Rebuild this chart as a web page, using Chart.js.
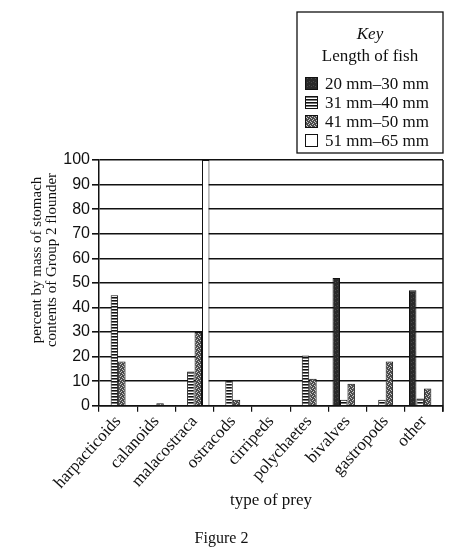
<!DOCTYPE html>
<html>
<head>
<meta charset="utf-8">
<title>Figure 2</title>
<script src="https://cdn.jsdelivr.net/npm/chart.js@4.4.1/dist/chart.umd.min.js"></script>
<style>
    body { margin: 0; background: #fff; }
    canvas { display: block; }
</style>
</head>
<body>
<canvas id="prey-chart" width="474" height="552"></canvas>
<script>
const categories = ["harpacticoids", "calanoids", "malacostraca", "ostracods", "cirripeds",
    "polychaetes", "bivalves", "gastropods", "other"];
const lengthLabels = ["20 mm\u201330 mm", "31 mm\u201340 mm", "41 mm\u201350 mm", "51 mm\u201365 mm"];

// percent by mass
const len20to30 = [0, 0, 0, 0, 0, 0, 52, 0, 47];
const len31to40 = [45, 0, 14, 10.5, 0, 20.5, 2.5, 2.5, 3];
const len41to50 = [18, 1, 30, 2.5, 0, 11, 9, 18, 7];
const len51to65 = [0, 0, 100, 0, 0, 0, 0, 0, 0];

const yTicks = [0, 10, 20, 30, 40, 50, 60, 70, 80, 90, 100];

const SERIF = "'Liberation Serif', 'Times New Roman', serif";

// little canvas textures to imitate the printed hatching
function makePattern(kind) {
    const c = document.createElement("canvas");
    c.width = 4;
    c.height = kind === "lines" ? 3 : 4;
    const g = c.getContext("2d");
    if (kind === "dark") {
        g.fillStyle = "#2a2a2a";
        g.fillRect(0, 0, 4, 4);
        g.fillStyle = "#4a4a4a";
        g.fillRect(1, 1, 1, 1);
        g.fillRect(3, 2, 1, 1);
    } else if (kind === "lines") {
        g.fillStyle = "#fff";
        g.fillRect(0, 0, 4, 3);
        g.fillStyle = "#111";
        g.fillRect(0, 0, 4, 1);
        g.fillStyle = "#777";
        g.fillRect(0, 1, 4, 1);
    } else {
        g.fillStyle = "#4c4c4c";
        g.fillRect(0, 0, 4, 4);
        g.fillStyle = "#c8c8c8";
        g.fillRect(0, 0, 1, 1);
        g.fillRect(2, 1, 1, 1);
        g.fillRect(1, 3, 1, 1);
        g.fillRect(3, 2, 1, 1);
    }
    return g.createPattern(c, "repeat");
}

const fills = [makePattern("dark"), makePattern("lines"), makePattern("stipple"), "#fff"];
const seriesValues = [len20to30, len31to40, len41to50, len51to65];

// y title, right frame line and the "Key" box
const extrasPlugin = {
    id: "extras",
    afterDraw(chart) {
        const ctx = chart.ctx;
        const area = chart.chartArea;
        ctx.save();

        ctx.strokeStyle = "#111";
        ctx.lineWidth = 1.5;
        ctx.beginPath();
        ctx.moveTo(area.right, area.top);
        ctx.lineTo(area.right, area.bottom + 6);
        ctx.stroke();

        ctx.fillStyle = "#111";
        ctx.font = "15px " + SERIF;
        ctx.textAlign = "center";
        ctx.textBaseline = "middle";
        ctx.save();
        ctx.translate(37, 260);
        ctx.rotate(-Math.PI / 2);
        ctx.fillText("percent by mass of stomach", 0, 0);
        ctx.fillText("contents of Group 2 flounder", 0, 15);
        ctx.restore();

        // key box
        ctx.lineWidth = 1.3;
        ctx.strokeRect(297, 12, 146, 141);
        ctx.font = "italic 17px " + SERIF;
        ctx.fillText("Key", 370, 35);
        ctx.font = "17px " + SERIF;
        ctx.fillText("Length of fish", 370, 57);

        ctx.textAlign = "left";
        chart.data.datasets.forEach((ds, i) => {
            const y = 84 + i * 19;
            ctx.fillStyle = ds.backgroundColor;
            ctx.fillRect(305, y - 7, 13, 13);
            ctx.strokeStyle = "#111";
            ctx.lineWidth = 1;
            ctx.strokeRect(305.5, y - 6.5, 12, 12);
            ctx.fillStyle = "#111";
            ctx.fillText(ds.label, 325, y + 1);
        });
        ctx.restore();
    }
};

const ctx = document.getElementById("prey-chart").getContext("2d");
new Chart(ctx, {
    type: "bar",
    data: {
        labels: categories,
        datasets: seriesValues.map((vals, i) => ({
            label: lengthLabels[i],
            data: vals,
            backgroundColor: fills[i],
            borderColor: "#111",
            borderWidth: 1,
            categoryPercentage: 0.78,
            barPercentage: 1.0
        }))
    },
    options: {
        responsive: false,
        animation: false,
        layout: { padding: { top: 160, right: 31, left: 0, bottom: 0 } },
        plugins: {
            legend: { display: false },
            tooltip: { enabled: false },
            title: {
                display: true,
                position: "bottom",
                text: "Figure 2",
                color: "#111",
                font: { family: SERIF, size: 16, weight: "normal" },
                padding: { top: 14, bottom: 4 }
            }
        },
        scales: {
            x: {
                afterFit(scale) { scale.height = 109; },
                grid: { display: true, drawOnChartArea: false, tickLength: 6, color: "#111", lineWidth: 1.2 },
                border: { color: "#111", width: 1.5 },
                ticks: {
                    color: "#111",
                    font: { family: SERIF, size: 17 },
                    minRotation: 48,
                    maxRotation: 48,
                    padding: 0
                },
                title: {
                    display: true,
                    text: "type of prey",
                    color: "#111",
                    font: { family: SERIF, size: 17 },
                    padding: { top: 0, bottom: 4 }
                }
            },
            y: {
                min: 0,
                max: 100,
                afterFit(scale) { scale.width = 99; },
                afterBuildTicks(scale) { scale.ticks = yTicks.map(v => ({ value: v })); },
                grid: { color: "#111", lineWidth: 1.6, tickLength: 7 },
                border: { color: "#111", width: 1.5 },
                ticks: {
                    color: "#111",
                    font: { family: "'Liberation Sans', Arial, sans-serif", size: 16 },
                    padding: 2
                }
            }
        }
    },
    plugins: [extrasPlugin]
});
</script>
</body>
</html>
